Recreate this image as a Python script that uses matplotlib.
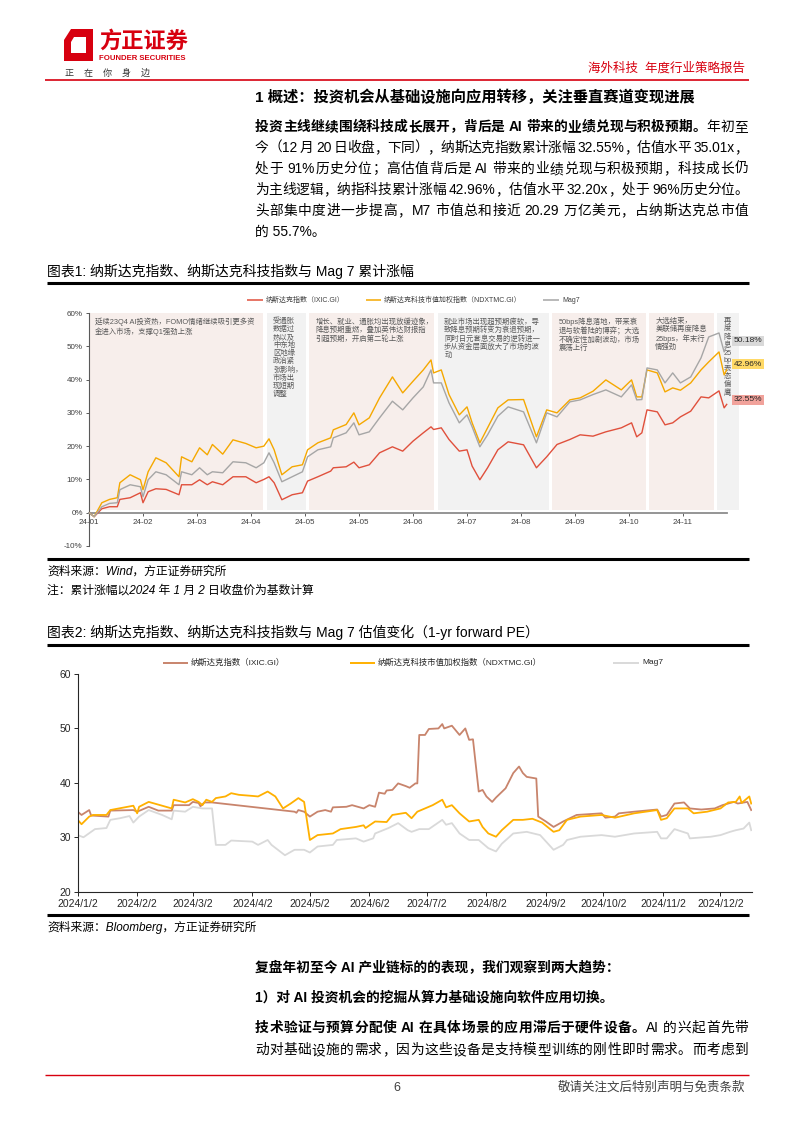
import re
import numpy as np
import matplotlib
matplotlib.use('Agg')
import matplotlib.pyplot as plt
from matplotlib.lines import Line2D
from matplotlib.patches import Polygon

plt.rcParams['font.family'] = ['Liberation Sans', 'Noto Sans CJK SC', 'DejaVu Sans']
plt.rcParams['axes.unicode_minus'] = False

W, H = 794, 1123
RED = '#d7000f'

# ---------------- chart 1 data: cumulative return (%) by trading day ----------------
day = [0, 2, 5, 8, 11, 12, 16, 20, 21, 23, 26, 30, 35, 36, 40, 43, 46, 48, 52, 56,
       61, 65, 68, 70, 72, 75, 79, 83, 85, 89, 94, 95, 100, 103, 105, 109, 113, 118, 122, 126,
       130, 133, 134, 137, 140, 144, 147, 149, 152, 155, 159, 163, 169, 174, 178, 182, 187, 191, 196, 201,
       207, 211, 213, 215, 217, 221, 224, 227, 230, 234, 238, 241, 245, 247, 248]
ixic_ret = [0, -1.2, 1.2, 1.8, 1.8, 4.0, 4.5, 6.0, 3.0, 6.3, 7.2, 7.0, 5.4, 8.4, 8.4, 9.9, 8.4, 9.3, 8.4, 10.8,
            10.8, 9.0, 10.0, 10.8, 9.0, 3.9, 5.4, 6.0, 9.5, 10.8, 12.5, 13.5, 13.8, 15.2, 13.5, 14.4, 18.0, 19.8, 18.5, 21.5,
            24.0, 25.8, 25.0, 25.5, 22.0, 18.5, 18.9, 14.0, 9.9, 13.5, 18.9, 21.3, 20.4, 13.5, 16.8, 20.5, 22.0, 23.4, 23.0, 24.3,
            25.5, 27.0, 22.8, 24.0, 30.9, 30.3, 26.4, 27.0, 28.8, 30.5, 34.8, 34.5, 36.6, 31.5, 32.55]
ndx_ret = [0, -1.2, 3.0, 4.0, 4.5, 9.0, 11.4, 9.9, 6.9, 12.3, 16.5, 15.0, 10.8, 16.8, 15.3, 19.5, 17.4, 20.5, 17.6, 21.9,
           20.8, 19.5, 20.0, 22.2, 18.9, 11.4, 13.8, 14.4, 18.9, 21.0, 22.5, 24.9, 26.5, 30.0, 26.4, 28.5, 34.5, 40.8, 36.0, 39.5,
           42.9, 45.9, 42.0, 42.9, 35.5, 29.4, 31.8, 27.0, 21.0, 25.5, 31.5, 33.9, 34.0, 22.8, 30.9, 30.0, 33.9, 34.5, 36.5, 39.9,
           36.9, 39.9, 34.8, 34.8, 42.9, 42.0, 36.3, 37.5, 36.8, 39.0, 42.9, 45.3, 48.3, 41.4, 42.96]
mag7_ret = [0, -1.2, 1.8, 2.8, 3.0, 6.9, 8.4, 7.8, 4.8, 9.9, 12.3, 11.4, 8.4, 12.3, 11.4, 13.5, 11.4, 12.3, 12.0, 15.3,
            15.0, 13.5, 15.0, 18.0, 15.0, 9.3, 10.8, 12.3, 16.8, 18.9, 19.8, 22.5, 24.0, 27.0, 23.4, 24.3, 28.5, 33.5, 30.9, 34.5,
            37.8, 42.9, 39.0, 39.0, 33.0, 27.0, 29.4, 25.8, 19.8, 23.4, 29.0, 31.8, 30.3, 21.0, 30.0, 28.8, 33.3, 33.9, 35.5, 36.9,
            34.8, 38.4, 33.9, 34.0, 43.5, 42.9, 39.0, 42.0, 39.0, 40.8, 46.5, 52.8, 54.0, 48.3, 50.18]
month_labels = ['24-01', '24-02', '24-03', '24-04', '24-05', '24-05',
                '24-06', '24-07', '24-08', '24-09', '24-10', '24-11']
end_labels = ['50.18%', '42.96%', '32.55%']

# market phases (trading-day spans) and their notes
phase_start = [0, 69.2, 85.6, 135.7, 180.1, 217.8, 244.3]
phase_end = [67.7, 84.4, 134.2, 178.9, 216.6, 243.1, 252.8]
phase_kind = ['up', 'down', 'up', 'down', 'up', 'up', 'down']
phase_note = [
    '延续23Q4 AI投资热，FOMO情绪继续吸引更多资\n金进入市场，支撑Q1强劲上涨',
    '受通胀\n数据过\n热以及\n中东地\n区地缘\n政治紧\n张影响，\n市场出\n现短期\n调整',
    '增长、就业、通胀均出现放缓迹象，\n降息预期重燃，叠加英伟达财报指\n引超预期，开启第二轮上涨',
    '就业市场出现超预期疲软，导\n致降息预期转变为衰退预期，\n同时日元套息交易的逆转进一\n步从资金层面放大了市场的波\n动',
    '50bps降息落地，带来衰\n退与软着陆的博弈；大选\n不确定性加剧波动，市场\n震荡上行',
    '大选结束，\n美联储再度降息\n25bps，年末行\n情强劲',
    '再\n度\n降\n息\n25\nbp，\n表\n态\n偏\n鹰',
]

# ---------------- chart 2 data: 1-yr forward PE ----------------
ixic_pe_dates = ['2024-01-02', '2024-01-04', '2024-01-08', '2024-01-09', '2024-01-18', '2024-01-19',
                 '2024-01-31', '2024-02-02', '2024-02-08', '2024-02-13', '2024-02-20', '2024-02-21',
                 '2024-02-29', '2024-03-02', '2024-03-05', '2024-03-06', '2024-03-08', '2024-03-12',
                 '2024-04-24', '2024-04-25', '2024-04-26', '2024-04-29', '2024-05-02', '2024-05-06',
                 '2024-05-10', '2024-05-13', '2024-05-14', '2024-05-21', '2024-05-24', '2024-05-30',
                 '2024-06-02', '2024-06-05', '2024-06-07', '2024-06-10', '2024-06-11', '2024-06-14',
                 '2024-06-17', '2024-06-21', '2024-06-23', '2024-06-26', '2024-06-27', '2024-06-28',
                 '2024-07-01', '2024-07-03', '2024-07-08', '2024-07-10', '2024-07-11', '2024-07-15',
                 '2024-07-19', '2024-07-22', '2024-07-24', '2024-07-26', '2024-07-29', '2024-07-31',
                 '2024-08-02', '2024-08-05', '2024-08-07', '2024-08-12', '2024-08-16', '2024-08-19',
                 '2024-08-21', '2024-08-23', '2024-08-28', '2024-08-29', '2024-09-02', '2024-09-06',
                 '2024-09-11', '2024-09-18', '2024-10-01', '2024-10-03', '2024-10-08', '2024-10-10',
                 '2024-10-18', '2024-10-30', '2024-11-01', '2024-11-04', '2024-11-08', '2024-11-13',
                 '2024-11-16', '2024-11-22', '2024-11-29', '2024-12-03', '2024-12-09', '2024-12-11',
                 '2024-12-16', '2024-12-18']
ixic_pe = [34.7, 34.1, 35.0, 34.0, 33.8, 34.9, 35.0, 34.7, 35.6, 34.9, 34.9, 35.9,
           35.9, 36.5, 36.3, 35.7, 36.4, 36.4, 34.7, 34.5, 35.0, 34.7, 33.8, 34.7,
           35.0, 34.7, 35.5, 35.6, 35.9, 35.3, 35.9, 35.6, 38.2, 38.0, 38.6, 38.7,
           39.9, 39.4, 39.1, 39.9, 39.9, 48.8, 48.8, 49.9, 50.0, 50.8, 50.0, 50.5,
           48.8, 50.0, 47.9, 48.0, 38.4, 38.7, 37.5, 36.5, 37.3, 39.0, 41.8, 43.0,
           41.8, 41.1, 40.8, 33.8, 32.9, 31.9, 32.9, 34.1, 34.4, 33.6, 33.8, 34.4,
           34.7, 35.1, 33.8, 34.1, 36.2, 36.4, 35.3, 35.1, 35.3, 35.9, 36.5, 36.2,
           36.5, 35.0]

ndx_pe_dates = ['2024-01-02', '2024-01-04', '2024-01-08', '2024-01-10', '2024-01-17', '2024-01-19',
                '2024-01-31', '2024-02-02', '2024-02-03', '2024-02-08', '2024-02-14', '2024-02-20',
                '2024-02-21', '2024-02-27', '2024-03-02', '2024-03-05', '2024-03-07', '2024-03-09',
                '2024-03-12', '2024-03-14', '2024-03-19', '2024-03-22', '2024-03-26', '2024-04-02',
                '2024-04-05', '2024-04-10', '2024-04-14', '2024-04-18', '2024-04-22', '2024-04-26',
                '2024-04-29', '2024-05-02', '2024-05-06', '2024-05-14', '2024-05-18', '2024-05-26',
                '2024-05-30', '2024-05-31', '2024-06-05', '2024-06-11', '2024-06-14', '2024-06-21',
                '2024-06-24', '2024-06-27', '2024-07-05', '2024-07-10', '2024-07-12', '2024-07-15',
                '2024-07-19', '2024-07-24', '2024-07-29', '2024-07-31', '2024-08-03', '2024-08-07',
                '2024-08-10', '2024-08-16', '2024-08-21', '2024-08-26', '2024-08-31', '2024-09-06',
                '2024-09-09', '2024-09-13', '2024-09-20', '2024-10-01', '2024-10-08', '2024-10-18',
                '2024-10-30', '2024-11-01', '2024-11-04', '2024-11-08', '2024-11-15', '2024-11-18',
                '2024-11-25', '2024-12-02', '2024-12-06', '2024-12-10', '2024-12-12', '2024-12-13',
                '2024-12-17', '2024-12-18']
ndx_pe = [33.2, 32.4, 33.8, 34.1, 34.1, 35.0, 35.8, 34.4, 35.6, 36.5, 35.9, 35.3,
          36.9, 36.4, 37.0, 36.5, 35.9, 36.9, 36.5, 37.2, 37.5, 38.1, 37.8, 37.6,
          37.5, 38.4, 37.5, 35.3, 36.2, 37.2, 36.5, 29.5, 30.4, 30.7, 31.5, 31.9,
          32.2, 31.7, 32.9, 32.8, 34.1, 34.5, 33.5, 34.7, 35.9, 36.9, 35.5, 35.9,
          34.4, 32.9, 33.2, 31.9, 30.7, 30.1, 31.3, 33.2, 33.2, 33.4, 32.7, 31.0,
          31.3, 33.2, 33.8, 34.1, 33.6, 34.4, 35.0, 33.2, 33.5, 35.3, 35.3, 34.4,
          34.7, 35.3, 36.4, 36.5, 37.5, 36.3, 37.5, 36.2]

mag7_pe_dates = ['2024-01-02', '2024-01-05', '2024-01-11', '2024-01-17', '2024-01-19', '2024-01-24',
                 '2024-01-29', '2024-01-31', '2024-02-03', '2024-02-08', '2024-02-15', '2024-02-20',
                 '2024-02-21', '2024-02-27', '2024-03-02', '2024-03-07', '2024-03-12', '2024-03-14',
                 '2024-03-19', '2024-03-22', '2024-04-02', '2024-04-05', '2024-04-10', '2024-04-12',
                 '2024-04-19', '2024-04-24', '2024-04-29', '2024-05-02', '2024-05-06', '2024-05-14',
                 '2024-05-16', '2024-05-26', '2024-05-30', '2024-06-04', '2024-06-05', '2024-06-12',
                 '2024-06-17', '2024-06-22', '2024-06-24', '2024-06-28', '2024-07-03', '2024-07-10',
                 '2024-07-12', '2024-07-15', '2024-07-19', '2024-07-24', '2024-07-29', '2024-08-03',
                 '2024-08-07', '2024-08-10', '2024-08-16', '2024-08-23', '2024-08-30', '2024-09-06',
                 '2024-09-11', '2024-09-13', '2024-09-20', '2024-10-01', '2024-10-08', '2024-10-18',
                 '2024-10-30', '2024-11-01', '2024-11-04', '2024-11-08', '2024-11-15', '2024-11-16',
                 '2024-11-27', '2024-12-02', '2024-12-07', '2024-12-10', '2024-12-14', '2024-12-17',
                 '2024-12-18']
mag7_pe = [30.4, 30.0, 31.5, 31.7, 33.2, 33.5, 33.9, 32.7, 33.8, 35.0, 34.1, 33.3,
           34.9, 34.7, 35.6, 35.3, 35.3, 28.6, 28.6, 29.4, 29.2, 28.6, 29.5, 28.6,
           26.7, 27.7, 27.7, 27.2, 28.3, 28.6, 29.5, 29.8, 29.2, 29.8, 30.7, 31.7,
           32.6, 31.3, 31.0, 31.5, 31.5, 33.2, 32.3, 32.6, 30.7, 29.5, 29.5, 28.0,
           27.4, 28.8, 30.7, 31.0, 30.4, 27.7, 28.6, 29.5, 30.1, 30.4, 30.1, 30.7,
           31.0, 29.8, 29.8, 31.5, 30.7, 29.8, 30.1, 30.4, 31.0, 31.3, 31.6, 32.7,
           31.3]
pe_ticks = ['2024-01-02', '2024-02-02', '2024-03-02', '2024-04-02', '2024-05-02', '2024-06-02',
            '2024-07-02', '2024-08-02', '2024-09-02', '2024-10-02', '2024-11-02', '2024-12-02']
pe_tick_labels = ['2024/1/2', '2024/2/2', '2024/3/2', '2024/4/2', '2024/5/2', '2024/6/2',
                  '2024/7/2', '2024/8/2', '2024/9/2', '2024/10/2', '2024/11/2', '2024/12/2']


def fx(x):
    return x / W


def fy(y):
    return 1 - y / H


def box(x0, y0, x1, y1):
    return [fx(x0), fy(y1), (x1 - x0) / W, (y1 - y0) / H]


def hline(y, x0, x1, color='black', lw=1.0):
    fig.add_artist(Line2D([fx(x0), fx(x1)], [fy(y), fy(y)], transform=fig.transFigure,
                          color=color, lw=lw, solid_capstyle='butt'))


def txt(x, y, s, **kw):
    kw.setdefault('va', 'center')
    return fig.text(fx(x), fy(y), s, **kw)


def justify(y, parts, x0=255, x1=748, size=9.9):
    # parts: list of (string, weight); spread the tokens so the line fills x0..x1
    rend = fig.canvas.get_renderer()
    toks = []
    for s, wt in parts:
        for t in re.findall(r'[A-Za-z0-9.%]+| +|.', s):
            toks.append((t, wt))
    objs, widths = [], []
    for t, wt in toks:
        if t.strip() == '':
            objs.append(None)
            widths.append(size * 0.35 * len(t))
            continue
        o = txt(x0, y, t, fontsize=size, fontweight=wt)
        objs.append(o)
        widths.append(o.get_window_extent(rend).width)
    gap = (x1 - x0 - sum(widths)) / max(len(toks) - 1, 1)
    x = x0
    for o, w in zip(objs, widths):
        if o is not None:
            o.set_x(fx(x))
        x += w + gap


fig = plt.figure(figsize=(7.94, 11.23), dpi=100)

# ---------------- header ----------------
fig.add_artist(Polygon([(fx(x), fy(y)) for x, y in
                        [(71, 29), (93, 29), (93, 61), (64, 61), (64, 40)]],
                       closed=True, transform=fig.transFigure, color=RED, lw=0))
fig.add_artist(Polygon([(fx(x), fy(y)) for x, y in
                        [(74, 37), (86, 37), (86, 53), (71, 53), (71, 42)]],
                       closed=True, transform=fig.transFigure, color='white', lw=0))
txt(99, 42, '方正证券', fontsize=16, fontweight='bold', color=RED)
txt(99, 58, 'FOUNDER SECURITIES', fontsize=5.6, fontweight='bold', color=RED)
txt(65, 73, '正    在    你    身    边', fontsize=6.5, color='#333333')
txt(745, 68, '海外科技  年度行业策略报告', fontsize=9, color=RED, ha='right')
hline(80, 45, 749, color=RED, lw=1.2)

# ---------------- section text ----------------
txt(255, 97, '1 概述：投资机会从基础设施向应用转移，关注垂直赛道变现进展', fontsize=11, fontweight='bold')
justify(127, [('投资主线继续围绕科技成长展开，背后是 AI 带来的业绩兑现与积极预期。', 'bold'),
              ('年初至', 'normal')])
para = ['今（12 月 20 日收盘，下同），纳斯达克指数累计涨幅 32.55%，估值水平 35.01x，',
        '处于 91%历史分位；高估值背后是 AI 带来的业绩兑现与积极预期，科技成长仍',
        '为主线逻辑，纳指科技累计涨幅 42.96%，估值水平 32.20x，处于 96%历史分位。',
        '头部集中度进一步提高，M7 市值总和接近 20.29 万亿美元，占纳斯达克总市值']
for i, line in enumerate(para):
    justify(148 + 21 * i, [(line, 'normal')])
txt(255, 232, '的 55.7%。', fontsize=9.9)

# ---------------- chart 1 ----------------
txt(47, 271, '图表1: 纳斯达克指数、纳斯达克科技指数与 Mag 7 累计涨幅', fontsize=10)
hline(283, 47, 749, lw=2.2)

px_day = 54 / 21
ax1 = fig.add_axes(box(89, 313, 740, 546))
ax1.set_xlim(0, (740 - 89) / px_day)
ax1.set_ylim(-10, 60)
shade = {'up': '#f7eeeb', 'down': '#f2f2f2'}
for a, b, k, note in zip(phase_start, phase_end, phase_kind, phase_note):
    ax1.axvspan(a, b, ymin=10.9 / 70, ymax=1, color=shade[k], lw=0, zorder=0)
    ax1.text(a + 2.4, 58.6, note, fontsize=5.3, color='#595959', va='top', ha='left',
             linespacing=1.15, zorder=1)

ax1.plot(day, ixic_ret, color='#e0503c', lw=1.0, zorder=3)
ax1.plot(day, ndx_ret, color='#f5a800', lw=1.0, zorder=3)
ax1.plot(day, mag7_ret, color='#a6a6a6', lw=1.0, zorder=3)

for s in ['top', 'right']:
    ax1.spines[s].set_visible(False)
ax1.spines['bottom'].set_position(('data', 0))
ax1.spines['bottom'].set_bounds(0, 248)
ax1.spines['bottom'].set_color('#8c8c8c')
ax1.spines['bottom'].set_linewidth(1.3)
ax1.spines['left'].set_color('#595959')
ax1.spines['left'].set_linewidth(0.8)
ax1.set_xticks(np.arange(len(month_labels)) * 21)
ax1.set_xticklabels(month_labels)
ax1.set_yticks(np.arange(-10, 61, 10))
ax1.set_yticklabels([f'{v}%' for v in range(-10, 61, 10)])
ax1.tick_params(labelsize=5.8, colors='#404040', length=2.5, width=0.6, pad=2)
ax1.patch.set_alpha(0)

# end labels
for lab, yy, fc in zip(end_labels, [341, 364, 400], ['#d9d9d9', '#ffd966', '#f1a29b']):
    txt(748, yy, lab, fontsize=6, ha='center', color='#262626', zorder=5,
        bbox=dict(boxstyle='square,pad=0.2', fc=fc, ec='none'))

# legend 1
leg1 = [(247, 263, '#e0503c', '纳斯达克指数（IXIC.GI）'),
        (366, 381, '#f5a800', '纳斯达克科技市值加权指数（NDXTMC.GI）'),
        (543, 559, '#a6a6a6', 'Mag7')]
for x0, x1, c, lab in leg1:
    hline(300, x0, x1, color=c, lw=1.1)
    txt(x1 + 3, 300, lab, fontsize=5, color='#404040')

hline(559, 47, 749, lw=2.2)
txt(47, 572, '资料来源：Wind，方正证券研究所', fontsize=8.5, style='italic')
txt(47, 591, '注：累计涨幅以2024 年 1 月 2 日收盘价为基数计算', fontsize=8.5, style='italic')

# ---------------- chart 2 ----------------
txt(47, 632, '图表2: 纳斯达克指数、纳斯达克科技指数与 Mag 7 估值变化（1-yr forward PE）', fontsize=10)
hline(645, 47, 749, lw=2.2)

ax2 = fig.add_axes(box(77.7, 674, 752, 891.7))
t0 = np.datetime64('2024-01-02')
ax2.plot(np.array(mag7_pe_dates, dtype='datetime64[D]'), mag7_pe, color='#d9d9d9', lw=1.3)
ax2.plot(np.array(ixic_pe_dates, dtype='datetime64[D]'), ixic_pe, color='#c8846c', lw=1.3)
ax2.plot(np.array(ndx_pe_dates, dtype='datetime64[D]'), ndx_pe, color='#ffb000', lw=1.3)
ax2.set_xlim(t0, t0 + np.timedelta64(351, 'D') + np.timedelta64(10, 'h'))
ax2.set_ylim(20, 60)
ax2.set_yticks([20, 30, 40, 50, 60])
ax2.set_xticks(np.array(pe_ticks, dtype='datetime64[D]'))
ax2.set_xticklabels(pe_tick_labels)
for s in ['top', 'right']:
    ax2.spines[s].set_visible(False)
for s in ['left', 'bottom']:
    ax2.spines[s].set_color('#262626')
    ax2.spines[s].set_linewidth(0.8)
ax2.tick_params(labelsize=7.5, colors='#262626', length=3, width=0.7, pad=2)
ax2.patch.set_alpha(0)

leg2 = [(163, 188, '#c8846c', '纳斯达克指数（IXIC.GI）'),
        (350, 375, '#ffb000', '纳斯达克科技市值加权指数（NDXTMC.GI）'),
        (613, 639, '#d9d9d9', 'Mag7')]
for x0, x1, c, lab in leg2:
    hline(663, x0, x1, color=c, lw=1.4)
    txt(x1 + 3, 663, lab, fontsize=6, color='#262626')

hline(915, 47, 749, lw=2.2)
txt(47, 927, '资料来源：Bloomberg，方正证券研究所', fontsize=8.5, style='italic')

# ---------------- bottom text ----------------
txt(255, 968, '复盘年初至今 AI 产业链标的的表现，我们观察到两大趋势：', fontsize=9.9, fontweight='bold')
txt(255, 998, '1）对 AI 投资机会的挖掘从算力基础设施向软件应用切换。', fontsize=9.9, fontweight='bold')
justify(1028, [('技术验证与预算分配使 AI 在具体场景的应用滞后于硬件设备。', 'bold'),
               ('AI 的兴起首先带', 'normal')])
justify(1050, [('动对基础设施的需求，因为这些设备是支持模型训练的刚性即时需求。而考虑到', 'normal')])

hline(1075, 45, 749, color=RED, lw=1.0)
txt(397, 1088, '6', fontsize=9, color='#404040', ha='center')
txt(745, 1088, '敬请关注文后特别声明与免责条款', fontsize=9, color='#404040', ha='right')

fig.savefig('out.png', dpi=100)
